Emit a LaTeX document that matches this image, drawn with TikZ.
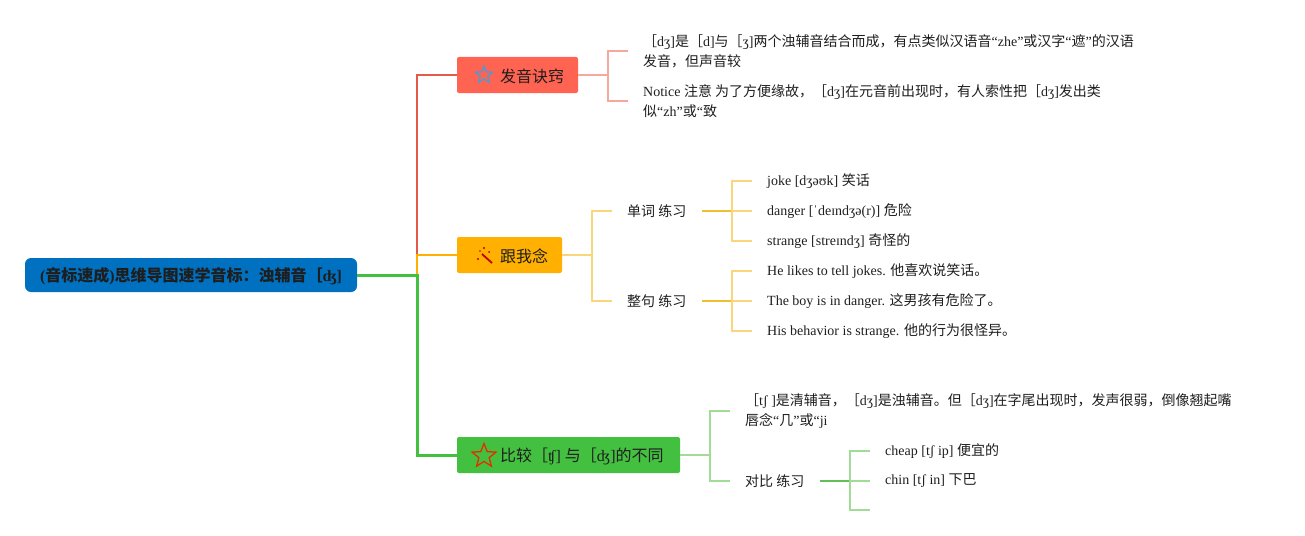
\documentclass[tikz,border=0pt]{standalone}
\usepackage{fontspec}
\setmainfont{Liberation Serif}
\newfontfamily\cjk{Noto Sans CJK SC}
\usetikzlibrary{shapes.geometric}
\newcommand\zh[1]{{\cjk #1}}
\definecolor{rootblue}{RGB}{0,112,192}
\definecolor{boxred}{RGB}{255,99,82}
\definecolor{boxorange}{RGB}{255,176,0}
\definecolor{boxgreen}{RGB}{68,192,64}
\definecolor{lred}{RGB}{244,168,158}
\definecolor{lgold}{RGB}{250,214,122}
\definecolor{dgold}{RGB}{240,190,50}
\definecolor{lgreen}{RGB}{160,220,150}
\definecolor{dgreen}{RGB}{100,190,90}
\definecolor{txt}{RGB}{30,30,30}
\tikzset{
  box/.style={draw=none, rounded corners=2pt, inner sep=0pt},
  boxtext/.style={anchor=west, inner sep=0pt, font=\fontsize{16}{20}\selectfont, text=txt},
  det/.style={anchor=west, inner sep=0pt, align=left, font=\fontsize{14}{20}\selectfont, text=txt},
  rline/.style={draw=boxred!90!black, line width=2pt},
  oline/.style={draw=boxorange, line width=1.8pt},
  gline/.style={draw=boxgreen, line width=3pt},
  lredline/.style={draw=lred, line width=1.3pt},
  lgoldline/.style={draw=lgold, line width=1.3pt},
  dgoldline/.style={draw=dgold, line width=2pt},
  lgreenline/.style={draw=lgreen, line width=1.3pt},
  dgreenline/.style={draw=dgreen, line width=2pt},
}
\begin{document}
\begin{tikzpicture}[x=1pt,y=-1pt]
\useasboundingbox (0,0) rectangle (1305,535);
% root
\node[box, fill=rootblue, rounded corners=6pt, minimum width=332pt, minimum height=34pt] (root) at (191,275) {};
\node[inner sep=0pt, text=txt, font=\fontsize{16}{20}\selectfont\bfseries] (roottxt) at (191,276) {(\zh{音标速成})\zh{思维导图速学音标：浊辅音［}ʤ]};
% main boxes
\node[box, fill=boxred, minimum width=121pt, minimum height=36pt] (b1) at (517.5,75) {};
\node[box, fill=boxorange, minimum width=105pt, minimum height=36pt] (b2) at (509.5,255) {};
\node[box, fill=boxgreen, minimum width=223pt, minimum height=36pt] (b3) at (568.5,455) {};
\node[boxtext] (b1t) at (500,76) {\zh{发音诀窍}};
\node[boxtext] (b2t) at (500,256) {\zh{跟我念}};
\node[boxtext] (b3t) at (500,456) {\zh{比较［}ʧ] \zh{与［}ʤ]\zh{的不同}};
% icons
\node[star, star points=5, star point ratio=2.3, draw=rootblue!70!white, line width=1.3pt, minimum size=18pt, inner sep=0pt] (s1) at (484,75) {};
\node[star, star points=5, star point ratio=2.3, draw=red!60!orange!90!black, fill=boxgreen, line width=1.3pt, minimum size=25pt, inner sep=0pt] (s3) at (484,456) {};
\coordinate (w1) at (482,254);
\coordinate (w2) at (492,263);
\draw[red!75!black, line width=1.8pt] (w1) -- (w2);
\fill[red!75!black] (478,259) circle (1.2pt) (484,248) circle (1.2pt) (489,252) circle (1pt) (480,251) circle (0.9pt);
% root connectors
\coordinate (j) at (417,275);
\coordinate (j2) at (417,255);
\draw[rline] (j2) |- (b1.west);
\draw[oline] (j) -- (j2) -- (b2.west);
\draw[gline] (root.east) -- (j) |- (b3.west);
% branch 1
\node[det] (t1) at (643,51) {\zh{［}dʒ]\zh{是［}d]\zh{与［}ʒ]\zh{两个浊辅音结合而成，有点类似汉语音}“zhe”\zh{或汉字}“\zh{遮}”\zh{的汉语}\\\zh{发音，但声音较}};
\node[det] (t2) at (643,101) {Notice \zh{注意 为了方便缘故，［}dʒ]\zh{在元音前出现时，有人索性把［}dʒ]\zh{发出类}\\\zh{似}“zh”\zh{或}“\zh{致}};
\coordinate (k1) at (608,75);
\draw[lredline] (b1.east) -- (k1);
\draw[lredline] ([xshift=-15pt]t1.west) -- (608,51) -- (608,101) -- ([xshift=-15pt]t2.west);
% branch 2
\node[det, font=\fontsize{14}{20}\selectfont\cjk] (l1) at (627,211) {单词 练习};
\node[det, font=\fontsize{14}{20}\selectfont\cjk] (l2) at (627,301) {整句 练习};
\coordinate (k2) at (592,255);
\draw[lgoldline] (b2.east) -- (k2);
\draw[lgoldline] ([xshift=-15pt]l1.west) -- (592,211) -- (592,301) -- ([xshift=-15pt]l2.west);
\node[det] (w11) at (767,181) {joke [dʒəʊk] \zh{笑话}};
\node[det] (w12) at (767,211) {danger [ˈdeɪndʒə(r)] \zh{危险}};
\node[det] (w13) at (767,241) {strange [streɪndʒ] \zh{奇怪的}};
\node[det] (w21) at (767,271) {He likes to tell jokes. \zh{他喜欢说笑话。}};
\node[det] (w22) at (767,301) {The boy is in danger. \zh{这男孩有危险了。}};
\node[det] (w23) at (767,331) {His behavior is strange. \zh{他的行为很怪异。}};
\coordinate (m1) at (732,211);
\coordinate (m2) at (732,301);
\draw[dgoldline] ([xshift=15pt]l1.east) -- (m1);
\draw[dgoldline] ([xshift=15pt]l2.east) -- (m2);
\draw[lgoldline] ([xshift=-15pt]w11.west) -- (732,181) -- (732,241) -- ([xshift=-15pt]w13.west);
\draw[lgoldline] (m1) -- ([xshift=-15pt]w12.west);
\draw[lgoldline] ([xshift=-15pt]w21.west) -- (732,271) -- (732,331) -- ([xshift=-15pt]w23.west);
\draw[lgoldline] (m2) -- ([xshift=-15pt]w22.west);
% branch 3
\node[det] (t3) at (745,411) {\zh{［}tʃ ]\zh{是清辅音，［}dʒ]\zh{是浊辅音。但［}dʒ]\zh{在字尾出现时，发声很弱，倒像翘起嘴}\\\zh{唇念}“\zh{几}”\zh{或}“ji};
\node[det, font=\fontsize{14}{20}\selectfont\cjk] (l3) at (745,481) {对比 练习};
\coordinate (k3) at (710,455);
\draw[lgreenline] (b3.east) -- (k3);
\draw[lgreenline] ([xshift=-15pt]t3.west) -- (710,411) -- (710,481) -- ([xshift=-15pt]l3.west);
\node[det] (c1) at (885,451) {cheap [tʃ ip] \zh{便宜的}};
\node[det] (c2) at (885,481) {chin [tʃ in] \zh{下巴}};
\coordinate (c3) at (885,510);
\coordinate (m3) at (850,481);
\draw[dgreenline] ([xshift=15pt]l3.east) -- (m3);
\draw[lgreenline] ([xshift=-15pt]c1.west) -- (850,451) -- (850,510) -- ([xshift=-15pt]c3);
\draw[lgreenline] (m3) -- ([xshift=-15pt]c2.west);
\end{tikzpicture}
\end{document}
